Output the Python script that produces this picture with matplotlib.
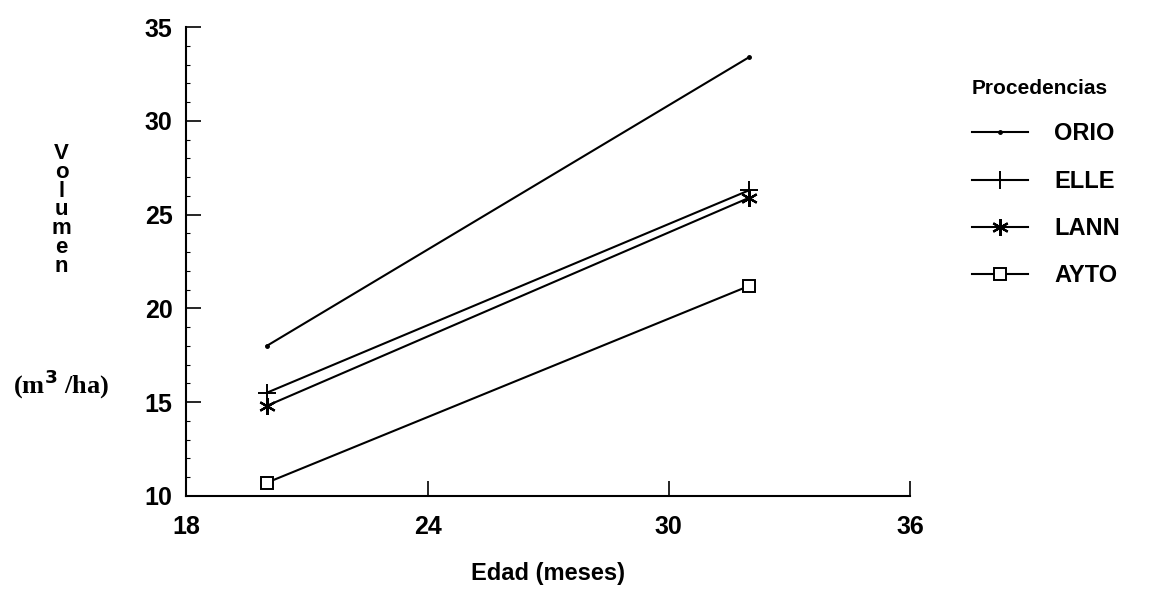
import numpy as np
import matplotlib.pyplot as plt

plt.rcParams['font.family'] = ['Liberation Sans', 'DejaVu Sans']

# datos
edad = [20, 32]
orio = [18.0, 33.4]
elle = [15.5, 26.3]
lann = [14.8, 25.9]
ayto = [10.7, 21.2]
nombres = ['ORIO', 'ELLE', 'LANN', 'AYTO']
xticks = [18, 24, 30, 36]
yticks = [10, 15, 20, 25, 30, 35]

fig = plt.figure(figsize=(11.65, 5.91), dpi=100)
ax = fig.add_axes([0.160, 0.161, 0.621, 0.793])

ax.plot(edad, orio, color='black', lw=1.5, marker='o', ms=2.5, label=nombres[0])
ax.plot(edad, elle, color='black', lw=1.5, marker='+', ms=13, mew=1.4, label=nombres[1])
ax.plot(edad, lann, color='black', lw=1.5, marker=(6, 2, 0), ms=12, mew=1.6, label=nombres[2])
ax.plot(edad, ayto, color='black', lw=1.5, marker='s', ms=8, mfc='white', mew=1.4, label=nombres[3])

ax.set_xlim(18, 36)
ax.set_ylim(10, 35)
ax.set_xticks(xticks)
ax.set_yticks(yticks)
ax.set_yticks(np.arange(10, 35, 1), minor=True)
ax.spines['top'].set_visible(False)
ax.spines['right'].set_visible(False)
ax.spines['left'].set_linewidth(1.5)
ax.spines['bottom'].set_linewidth(1.5)
ax.tick_params(axis='both', which='major', direction='in', length=11, width=1.2,
               labelsize=18, pad=10)
ax.tick_params(axis='y', which='minor', direction='in', length=3, width=0.8)
ax.tick_params(axis='x', which='major', pad=14)
for t in ax.get_xticklabels() + ax.get_yticklabels():
    t.set_fontweight('bold')

ax.set_xlabel('Edad (meses)', fontsize=17, fontweight='bold', labelpad=16)

# etiqueta vertical letra a letra
fig.text(0.053, 0.645, 'V\no\nl\nu\nm\ne\nn', fontsize=16, fontweight='bold',
         ha='center', va='center', linespacing=0.86)
fig.text(0.052, 0.35, r'(m$^{\mathbf{3}}$ /ha)', fontsize=19, fontweight='bold',
         family='Liberation Serif', ha='center', va='center')

leg = ax.legend(loc='upper left', bbox_to_anchor=(0.824, 0.886), bbox_transform=fig.transFigure,
                frameon=False, title='Procedencias', fontsize=17, title_fontsize=15,
                handlelength=2.4, labelspacing=1.03, handletextpad=1.1, borderpad=0)
leg._legend_box.align = 'left'
leg.get_title().set_fontweight('bold')
for t in leg.get_texts():
    t.set_fontweight('bold')

plt.savefig('out.png', dpi=100)
